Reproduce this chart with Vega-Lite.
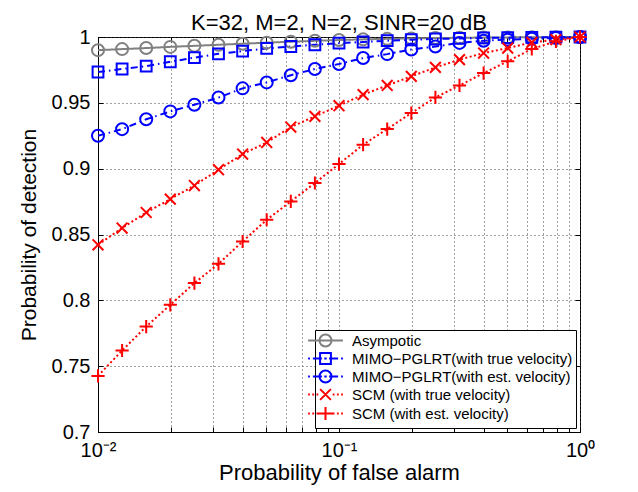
{
  "$schema": "https://vega.github.io/schema/vega-lite/v6.json",
  "width": 482,
  "height": 395,
  "autosize": {"type": "none"},
  "padding": {"left": 98, "top": 37, "right": 58, "bottom": 60},
  "background": "white",
  "title": {"text": "K=32, M=2, N=2, SINR=20 dB", "fontSize": 22, "fontWeight": "normal", "color": "black", "font": "Liberation Sans", "anchor": "middle", "frame": "group", "baseline": "alphabetic", "offset": -26},
  "datasets": {
    "curves": [
      {"series": "Asympotic", "pfa": 0.01, "pd": 0.990},
      {"series": "Asympotic", "pfa": 0.012589, "pd": 0.9908},
      {"series": "Asympotic", "pfa": 0.015849, "pd": 0.9916},
      {"series": "Asympotic", "pfa": 0.019953, "pd": 0.9925},
      {"series": "Asympotic", "pfa": 0.025119, "pd": 0.9933},
      {"series": "Asympotic", "pfa": 0.031623, "pd": 0.9941},
      {"series": "Asympotic", "pfa": 0.039811, "pd": 0.9949},
      {"series": "Asympotic", "pfa": 0.050119, "pd": 0.9957},
      {"series": "Asympotic", "pfa": 0.063096, "pd": 0.9964},
      {"series": "Asympotic", "pfa": 0.079433, "pd": 0.9971},
      {"series": "Asympotic", "pfa": 0.1, "pd": 0.9977},
      {"series": "Asympotic", "pfa": 0.125893, "pd": 0.9982},
      {"series": "Asympotic", "pfa": 0.158489, "pd": 0.9986},
      {"series": "Asympotic", "pfa": 0.199526, "pd": 0.9989},
      {"series": "Asympotic", "pfa": 0.251189, "pd": 0.9992},
      {"series": "Asympotic", "pfa": 0.316228, "pd": 0.9994},
      {"series": "Asympotic", "pfa": 0.398107, "pd": 0.9996},
      {"series": "Asympotic", "pfa": 0.501187, "pd": 0.9997},
      {"series": "Asympotic", "pfa": 0.630957, "pd": 0.9998},
      {"series": "Asympotic", "pfa": 0.794328, "pd": 0.9999},
      {"series": "Asympotic", "pfa": 1, "pd": 1.0},
      {"series": "MIMO−PGLRT(with true velocity)", "pfa": 0.01, "pd": 0.9734},
      {"series": "MIMO−PGLRT(with true velocity)", "pfa": 0.012589, "pd": 0.9757},
      {"series": "MIMO−PGLRT(with true velocity)", "pfa": 0.015849, "pd": 0.9779},
      {"series": "MIMO−PGLRT(with true velocity)", "pfa": 0.019953, "pd": 0.9812},
      {"series": "MIMO−PGLRT(with true velocity)", "pfa": 0.025119, "pd": 0.9843},
      {"series": "MIMO−PGLRT(with true velocity)", "pfa": 0.031623, "pd": 0.9872},
      {"series": "MIMO−PGLRT(with true velocity)", "pfa": 0.039811, "pd": 0.9893},
      {"series": "MIMO−PGLRT(with true velocity)", "pfa": 0.050119, "pd": 0.9913},
      {"series": "MIMO−PGLRT(with true velocity)", "pfa": 0.063096, "pd": 0.9928},
      {"series": "MIMO−PGLRT(with true velocity)", "pfa": 0.079433, "pd": 0.9941},
      {"series": "MIMO−PGLRT(with true velocity)", "pfa": 0.1, "pd": 0.9953},
      {"series": "MIMO−PGLRT(with true velocity)", "pfa": 0.125893, "pd": 0.9962},
      {"series": "MIMO−PGLRT(with true velocity)", "pfa": 0.158489, "pd": 0.9972},
      {"series": "MIMO−PGLRT(with true velocity)", "pfa": 0.199526, "pd": 0.9979},
      {"series": "MIMO−PGLRT(with true velocity)", "pfa": 0.251189, "pd": 0.9985},
      {"series": "MIMO−PGLRT(with true velocity)", "pfa": 0.316228, "pd": 0.9989},
      {"series": "MIMO−PGLRT(with true velocity)", "pfa": 0.398107, "pd": 0.9993},
      {"series": "MIMO−PGLRT(with true velocity)", "pfa": 0.501187, "pd": 0.9995},
      {"series": "MIMO−PGLRT(with true velocity)", "pfa": 0.630957, "pd": 0.9997},
      {"series": "MIMO−PGLRT(with true velocity)", "pfa": 0.794328, "pd": 0.9999},
      {"series": "MIMO−PGLRT(with true velocity)", "pfa": 1, "pd": 1.0},
      {"series": "MIMO−PGLRT(with est. velocity)", "pfa": 0.01, "pd": 0.925},
      {"series": "MIMO−PGLRT(with est. velocity)", "pfa": 0.012589, "pd": 0.930},
      {"series": "MIMO−PGLRT(with est. velocity)", "pfa": 0.015849, "pd": 0.9375},
      {"series": "MIMO−PGLRT(with est. velocity)", "pfa": 0.019953, "pd": 0.9435},
      {"series": "MIMO−PGLRT(with est. velocity)", "pfa": 0.025119, "pd": 0.9486},
      {"series": "MIMO−PGLRT(with est. velocity)", "pfa": 0.031623, "pd": 0.954},
      {"series": "MIMO−PGLRT(with est. velocity)", "pfa": 0.039811, "pd": 0.961},
      {"series": "MIMO−PGLRT(with est. velocity)", "pfa": 0.050119, "pd": 0.9655},
      {"series": "MIMO−PGLRT(with est. velocity)", "pfa": 0.063096, "pd": 0.971},
      {"series": "MIMO−PGLRT(with est. velocity)", "pfa": 0.079433, "pd": 0.9757},
      {"series": "MIMO−PGLRT(with est. velocity)", "pfa": 0.1, "pd": 0.9795},
      {"series": "MIMO−PGLRT(with est. velocity)", "pfa": 0.125893, "pd": 0.984},
      {"series": "MIMO−PGLRT(with est. velocity)", "pfa": 0.158489, "pd": 0.987},
      {"series": "MIMO−PGLRT(with est. velocity)", "pfa": 0.199526, "pd": 0.9905},
      {"series": "MIMO−PGLRT(with est. velocity)", "pfa": 0.251189, "pd": 0.9928},
      {"series": "MIMO−PGLRT(with est. velocity)", "pfa": 0.316228, "pd": 0.9955},
      {"series": "MIMO−PGLRT(with est. velocity)", "pfa": 0.398107, "pd": 0.9972},
      {"series": "MIMO−PGLRT(with est. velocity)", "pfa": 0.501187, "pd": 0.998},
      {"series": "MIMO−PGLRT(with est. velocity)", "pfa": 0.630957, "pd": 0.9986},
      {"series": "MIMO−PGLRT(with est. velocity)", "pfa": 0.794328, "pd": 0.9992},
      {"series": "MIMO−PGLRT(with est. velocity)", "pfa": 1, "pd": 1.0},
      {"series": "SCM (with true velocity)", "pfa": 0.01, "pd": 0.8422},
      {"series": "SCM (with true velocity)", "pfa": 0.012589, "pd": 0.8549},
      {"series": "SCM (with true velocity)", "pfa": 0.015849, "pd": 0.8667},
      {"series": "SCM (with true velocity)", "pfa": 0.019953, "pd": 0.8769},
      {"series": "SCM (with true velocity)", "pfa": 0.025119, "pd": 0.8872},
      {"series": "SCM (with true velocity)", "pfa": 0.031623, "pd": 0.8992},
      {"series": "SCM (with true velocity)", "pfa": 0.039811, "pd": 0.9111},
      {"series": "SCM (with true velocity)", "pfa": 0.050119, "pd": 0.9199},
      {"series": "SCM (with true velocity)", "pfa": 0.063096, "pd": 0.9316},
      {"series": "SCM (with true velocity)", "pfa": 0.079433, "pd": 0.9397},
      {"series": "SCM (with true velocity)", "pfa": 0.1, "pd": 0.9478},
      {"series": "SCM (with true velocity)", "pfa": 0.125893, "pd": 0.9562},
      {"series": "SCM (with true velocity)", "pfa": 0.158489, "pd": 0.9632},
      {"series": "SCM (with true velocity)", "pfa": 0.199526, "pd": 0.9701},
      {"series": "SCM (with true velocity)", "pfa": 0.251189, "pd": 0.9769},
      {"series": "SCM (with true velocity)", "pfa": 0.316228, "pd": 0.9828},
      {"series": "SCM (with true velocity)", "pfa": 0.398107, "pd": 0.9878},
      {"series": "SCM (with true velocity)", "pfa": 0.501187, "pd": 0.9916},
      {"series": "SCM (with true velocity)", "pfa": 0.630957, "pd": 0.9959},
      {"series": "SCM (with true velocity)", "pfa": 0.794328, "pd": 0.998},
      {"series": "SCM (with true velocity)", "pfa": 1, "pd": 1.0},
      {"series": "SCM (with est. velocity)", "pfa": 0.01, "pd": 0.7426},
      {"series": "SCM (with est. velocity)", "pfa": 0.012589, "pd": 0.7619},
      {"series": "SCM (with est. velocity)", "pfa": 0.015849, "pd": 0.7801},
      {"series": "SCM (with est. velocity)", "pfa": 0.019953, "pd": 0.7966},
      {"series": "SCM (with est. velocity)", "pfa": 0.025119, "pd": 0.8131},
      {"series": "SCM (with est. velocity)", "pfa": 0.031623, "pd": 0.8277},
      {"series": "SCM (with est. velocity)", "pfa": 0.039811, "pd": 0.8447},
      {"series": "SCM (with est. velocity)", "pfa": 0.050119, "pd": 0.8612},
      {"series": "SCM (with est. velocity)", "pfa": 0.063096, "pd": 0.8751},
      {"series": "SCM (with est. velocity)", "pfa": 0.079433, "pd": 0.8891},
      {"series": "SCM (with est. velocity)", "pfa": 0.1, "pd": 0.9035},
      {"series": "SCM (with est. velocity)", "pfa": 0.125893, "pd": 0.9182},
      {"series": "SCM (with est. velocity)", "pfa": 0.158489, "pd": 0.9301},
      {"series": "SCM (with est. velocity)", "pfa": 0.199526, "pd": 0.9422},
      {"series": "SCM (with est. velocity)", "pfa": 0.251189, "pd": 0.9541},
      {"series": "SCM (with est. velocity)", "pfa": 0.316228, "pd": 0.9632},
      {"series": "SCM (with est. velocity)", "pfa": 0.398107, "pd": 0.9726},
      {"series": "SCM (with est. velocity)", "pfa": 0.501187, "pd": 0.9815},
      {"series": "SCM (with est. velocity)", "pfa": 0.630957, "pd": 0.9909},
      {"series": "SCM (with est. velocity)", "pfa": 0.794328, "pd": 0.9967},
      {"series": "SCM (with est. velocity)", "pfa": 1, "pd": 1.0}
    ]
  },
  "data": {"name": "curves"},
  "resolve": {
    "scale": {"color": "independent", "shape": "independent", "strokeDash": "independent"},
    "axis": {"x": "independent", "y": "independent"}
  },
  "layer": [
    {
      "mark": {"type": "line", "strokeWidth": 2, "clip": false},
      "encoding": {
        "x": {
          "field": "pfa", "type": "quantitative",
          "scale": {"type": "log", "domain": [0.01, 1], "nice": false},
          "axis": {
            "title": "Probability of false alarm",
            "titleFontSize": 22,
            "values": [0.01, 0.02, 0.03, 0.04, 0.05, 0.06, 0.07, 0.08, 0.09, 0.1, 0.2, 0.3, 0.4, 0.5, 0.6, 0.7, 0.8, 0.9, 1],
            "labelExpr": "abs(log(datum.value)/LN10 + 2) < 0.001 ? '10⁻²' : abs(log(datum.value)/LN10 + 1) < 0.001 ? '10⁻¹' : abs(log(datum.value)/LN10) < 0.001 ? '10⁰' : ''",
            "labelOverlap": false,
            "labelFlush": false,
            "tickSize": -5,
            "labelPadding": 13,
            "titlePadding": 2
          }
        },
        "y": {
          "field": "pd", "type": "quantitative",
          "scale": {"domain": [0.7, 1], "nice": false, "zero": false},
          "axis": {
            "title": "Probability of detection",
            "titleFontSize": 21,
            "values": [0.7, 0.75, 0.8, 0.85, 0.9, 0.95, 1],
            "format": "~g",
            "tickSize": -5,
            "labelPadding": 13,
            "titlePadding": 12
          }
        },
        "color": {
          "field": "series", "type": "nominal", "legend": null,
          "scale": {"domain": ["Asympotic", "MIMO−PGLRT(with true velocity)", "MIMO−PGLRT(with est. velocity)", "SCM (with true velocity)", "SCM (with est. velocity)"], "range": ["#808080", "#0000ff", "#0000ff", "#ff0000", "#ff0000"]}
        },
        "strokeDash": {
          "field": "series", "type": "nominal", "legend": null,
          "scale": {"domain": ["Asympotic", "MIMO−PGLRT(with true velocity)", "MIMO−PGLRT(with est. velocity)", "SCM (with true velocity)", "SCM (with est. velocity)"], "range": [[1, 0], [7, 4, 1.5, 4], [7, 4, 1.5, 4], [2, 2.5], [2, 2.5]]}
        }
      }
    },
    {
      "mark": {"type": "point", "filled": false, "size": 144, "strokeWidth": 2, "opacity": 1, "clip": false},
      "encoding": {
        "x": {"field": "pfa", "type": "quantitative", "scale": {"type": "log", "domain": [0.01, 1], "nice": false}, "axis": null},
        "y": {"field": "pd", "type": "quantitative", "scale": {"domain": [0.7, 1], "nice": false, "zero": false}, "axis": null},
        "color": {
          "field": "series", "type": "nominal", "legend": null,
          "scale": {"domain": ["Asympotic", "MIMO−PGLRT(with true velocity)", "MIMO−PGLRT(with est. velocity)", "SCM (with true velocity)", "SCM (with est. velocity)"], "range": ["#808080", "#0000ff", "#0000ff", "#ff0000", "#ff0000"]}
        },
        "shape": {
          "field": "series", "type": "nominal", "legend": null,
          "scale": {"domain": ["Asympotic", "MIMO−PGLRT(with true velocity)", "MIMO−PGLRT(with est. velocity)", "SCM (with true velocity)", "SCM (with est. velocity)"], "range": ["circle", "M-0.9,-0.9L0.9,-0.9L0.9,0.9L-0.9,0.9Z", "circle", "M-0.9,-0.9L0.9,0.9M-0.9,0.9L0.9,-0.9", "M-1.1,0L1.1,0M0,-1.1L0,1.1"]}
        }
      }
    },
    {
      "mark": {"type": "point", "filled": false, "size": 144, "strokeWidth": 2, "opacity": 0, "clip": false},
      "encoding": {
        "x": {
          "field": "pfa", "type": "quantitative",
          "scale": {"type": "log", "domain": [0.01, 1], "nice": false},
          "axis": {"orient": "top", "labels": false, "title": null, "grid": false, "domain": false, "tickSize": -5, "minExtent": 0, "maxExtent": 0, "labelPadding": 0,
            "values": [0.01, 0.02, 0.03, 0.04, 0.05, 0.06, 0.07, 0.08, 0.09, 0.1, 0.2, 0.3, 0.4, 0.5, 0.6, 0.7, 0.8, 0.9, 1]}
        },
        "y": {
          "field": "pd", "type": "quantitative",
          "scale": {"domain": [0.7, 1], "nice": false, "zero": false},
          "axis": {"orient": "right", "labels": false, "title": null, "grid": false, "domain": false, "tickSize": -5, "minExtent": 0, "maxExtent": 0, "labelPadding": 0,
            "values": [0.7, 0.75, 0.8, 0.85, 0.9, 0.95, 1]}
        },
        "color": {
          "field": "series", "type": "nominal",
          "scale": {"domain": ["Asympotic", "MIMO−PGLRT(with true velocity)", "MIMO−PGLRT(with est. velocity)", "SCM (with true velocity)", "SCM (with est. velocity)"], "range": ["#808080", "#0000ff", "#0000ff", "#ff0000", "#ff0000"]},
          "legend": {
            "title": null, "orient": "bottom-right", "offset": 4,
            "strokeColor": "black", "fillColor": "white", "padding": 3,
            "labelFontSize": 15, "labelFont": "Liberation Sans", "labelColor": "black",
            "symbolOpacity": 1, "symbolSize": 144, "symbolStrokeWidth": 2, "symbolFillColor": "transparent",
            "labelOffset": 19, "rowPadding": -2, "labelLimit": 400
          }
        },
        "shape": {
          "field": "series", "type": "nominal",
          "scale": {"domain": ["Asympotic", "MIMO−PGLRT(with true velocity)", "MIMO−PGLRT(with est. velocity)", "SCM (with true velocity)", "SCM (with est. velocity)"],
            "range": [
              "M-2.9,0L2.9,0M-1,0A1,1 0 1,1 1,0A1,1 0 1,1 -1,0",
              "M-2.9,0L-2.6,0M-2.1,0L-0.6,0M-0.2,0L0.2,0M0.6,0L2.1,0M2.6,0L2.9,0M-0.9,-0.9L0.9,-0.9L0.9,0.9L-0.9,0.9Z",
              "M-2.9,0L-2.6,0M-2.1,0L-0.6,0M-0.2,0L0.2,0M0.6,0L2.1,0M2.6,0L2.9,0M-1,0A1,1 0 1,1 1,0A1,1 0 1,1 -1,0",
              "M-2.9,0L-2.6,0M-2.2,0L-1.9,0M-1.5,0L-1.2,0M1.2,0L1.5,0M1.9,0L2.2,0M2.6,0L2.9,0M-0.9,-0.9L0.9,0.9M-0.9,0.9L0.9,-0.9",
              "M-2.9,0L-2.6,0M-2.2,0L-1.9,0M-1.5,0L1.5,0M1.9,0L2.2,0M2.6,0L2.9,0M0,-1.1L0,1.1"
            ]}
        }
      }
    }
  ],
  "config": {
    "font": "Liberation Sans",
    "view": {"stroke": "black", "strokeWidth": 1},
    "axis": {
      "labelFont": "Liberation Sans", "labelFontSize": 20, "labelColor": "black",
      "titleFont": "Liberation Sans", "titleFontSize": 20, "titleFontWeight": "normal", "titleColor": "black",
      "domainColor": "black", "tickColor": "black", "tickWidth": 1,
      "grid": true, "gridDash": [1, 3], "gridColor": "#444444", "gridWidth": 1, "gridOpacity": 1
    }
  }
}
